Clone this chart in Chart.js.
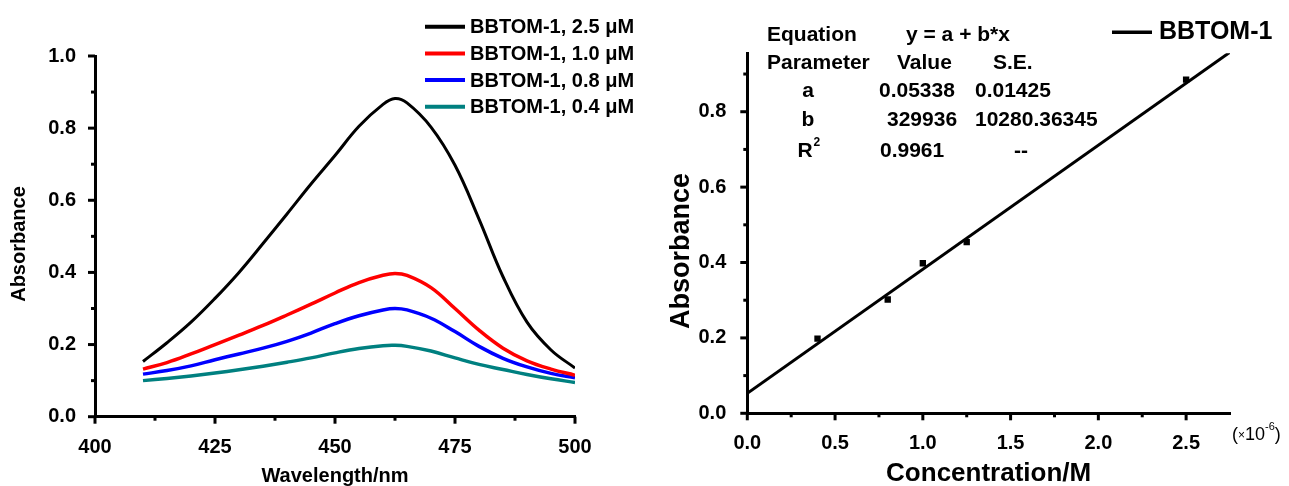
<!DOCTYPE html>
<html>
<head>
<meta charset="utf-8">
<script src="https://cdn.jsdelivr.net/npm/chart.js@4.4.0/dist/chart.umd.min.js"></script>
<style>
  html, body { margin: 0; padding: 0; background: #fff; }
  #wrap { position: relative; width: 1289px; height: 486px; overflow: hidden; }
  canvas { position: absolute; top: 0; }
  #spectra { left: 0; }
  #calib { left: 645px; }
</style>
</head>
<body>
<div id="wrap">
  <canvas id="spectra" width="645" height="486"></canvas>
  <canvas id="calib" width="644" height="486"></canvas>
</div>
<script>
// ---- left panel: absorption spectra ----
const wavelengths = [410, 415, 420, 425, 430, 435, 440, 445, 450, 455, 460, 462.5, 465, 470, 475, 480, 485, 490, 495, 500];
const abs25 = [0.153, 0.205, 0.262, 0.328, 0.400, 0.480, 0.562, 0.645, 0.724, 0.805, 0.866, 0.882, 0.870, 0.803, 0.697, 0.548, 0.388, 0.262, 0.185, 0.135];
const abs10 = [0.132, 0.150, 0.174, 0.200, 0.226, 0.253, 0.282, 0.312, 0.343, 0.372, 0.392, 0.397, 0.392, 0.358, 0.300, 0.240, 0.190, 0.155, 0.132, 0.115];
const abs08 = [0.118, 0.128, 0.141, 0.158, 0.174, 0.190, 0.209, 0.232, 0.258, 0.280, 0.296, 0.300, 0.296, 0.273, 0.236, 0.195, 0.162, 0.138, 0.120, 0.108];
const abs04 = [0.100, 0.106, 0.113, 0.121, 0.130, 0.140, 0.151, 0.163, 0.177, 0.189, 0.197, 0.198, 0.195, 0.182, 0.163, 0.145, 0.131, 0.117, 0.105, 0.095];
const seriesLabels = ['BBTOM-1, 2.5 μM', 'BBTOM-1, 1.0 μM', 'BBTOM-1, 0.8 μM', 'BBTOM-1, 0.4 μM'];
const seriesColors = ['#000000', '#ff0000', '#0000ff', '#008080'];
const wlTicks = [400, 425, 450, 475, 500];
const wlMinor = [412.5, 437.5, 462.5, 487.5];
const absTicks = [0, 0.2, 0.4, 0.6, 0.8, 1.0];
const absMinor = [0.1, 0.3, 0.5, 0.7, 0.9];

// ---- right panel: calibration ----
const concentration = [0.4, 0.8, 1.0, 1.25, 2.5];   // x 10^-6 M
const peakAbs = [0.198, 0.302, 0.398, 0.454, 0.885];
const fitX = [0, 2.75];
const fitY = [0.053, 0.958];
const concTicks = [0, 0.5, 1.0, 1.5, 2.0, 2.5];
const concMinor = [0.25, 0.75, 1.25, 1.75, 2.25];
const calTicks = [0, 0.2, 0.4, 0.6, 0.8];
const calMinor = [0.1, 0.3, 0.5, 0.7, 0.9];
const fitTable = [
  ['Equation', 'y = a + b*x', ''],
  ['Parameter', 'Value', 'S.E.'],
  ['a', '0.05338', '0.01425'],
  ['b', '329936', '10280.36345'],
  ['R²', '0.9961', '--']
];

const FONT = '"Liberation Sans", Arial, Helvetica, sans-serif';

// outward major / minor tick marks, placed with the chart's own scales
const tickMarks = {
  id: 'tickMarks',
  afterDraw(chart, args, opts) {
    const ctx = chart.ctx;
    const xs = chart.scales.x, ys = chart.scales.y;
    const area = chart.chartArea;
    ctx.save();
    ctx.strokeStyle = '#000';
    ctx.lineWidth = 3;
    const xMark = (v, len) => {
      const px = xs.getPixelForValue(v);
      ctx.beginPath(); ctx.moveTo(px, area.bottom); ctx.lineTo(px, area.bottom + len); ctx.stroke();
    };
    const yMark = (v, len) => {
      const py = ys.getPixelForValue(v);
      ctx.beginPath(); ctx.moveTo(area.left, py); ctx.lineTo(area.left - len, py); ctx.stroke();
    };
    opts.xMajor.forEach(v => xMark(v, 7));
    opts.xMinor.forEach(v => xMark(v, 4));
    opts.yMajor.forEach(v => yMark(v, 7));
    opts.yMinor.forEach(v => { if (v <= ys.max) yMark(v, 4); });
    ctx.restore();
  }
};

function fixedTicks(values) {
  return scale => { scale.ticks = values.map(v => ({ value: v })); };
}

function text(ctx, str, x, y, size, align, bold = true) {
  ctx.font = (bold ? 'bold ' : '') + size + 'px ' + FONT;
  ctx.textAlign = align || 'left';
  ctx.textBaseline = 'middle';
  ctx.fillText(str, x, y);
}

// ---------------- left chart ----------------
const spectraDecor = {
  id: 'spectraDecor',
  afterDraw(chart) {
    const ctx = chart.ctx;
    ctx.save();
    ctx.fillStyle = '#000';
    // legend
    chart.data.datasets.forEach((ds, i) => {
      const y = 26.7 + i * 26.7;
      ctx.strokeStyle = ds.borderColor;
      ctx.lineWidth = 4;
      ctx.beginPath(); ctx.moveTo(425, y); ctx.lineTo(465, y); ctx.stroke();
      text(ctx, ds.label, 470, y + 1, 20, 'left');
    });
    // axis titles
    text(ctx, 'Wavelength/nm', (chart.chartArea.left + chart.chartArea.right) / 2, 476, 20, 'center');
    ctx.translate(19, 244);
    ctx.rotate(-Math.PI / 2);
    text(ctx, 'Absorbance', 0, 0, 20, 'center');
    ctx.restore();
  }
};

const spectraSets = [abs25, abs10, abs08, abs04].map((arr, i) => ({
  label: seriesLabels[i],
  data: wavelengths.map((w, j) => ({ x: w, y: arr[j] })),
  borderColor: seriesColors[i],
  borderWidth: i === 0 ? 3 : 3.5,
  pointRadius: 0,
  tension: 0.4,
  fill: false
}));

new Chart(document.getElementById('spectra'), {
  type: 'line',
  data: { datasets: spectraSets },
  options: {
    responsive: false,
    animation: false,
    layout: { padding: { top: 56, right: 70, left: 0, bottom: 0 } },
    plugins: {
      legend: { display: false },
      tooltip: { enabled: false },
      tickMarks: { xMajor: wlTicks, xMinor: wlMinor, yMajor: absTicks, yMinor: absMinor }
    },
    scales: {
      x: {
        type: 'linear', min: 400, max: 500,
        afterBuildTicks: fixedTicks(wlTicks),
        afterFit: s => { s.height = 69.3; },
        grid: { display: false },
        border: { display: true, color: '#000', width: 3 },
        ticks: { autoSkip: false, maxRotation: 0, padding: 11, color: '#000',
                 font: { family: FONT, size: 20, weight: 'bold' } }
      },
      y: {
        min: 0, max: 1.0,
        afterBuildTicks: fixedTicks(absTicks),
        afterFit: s => { s.width = 95; },
        grid: { display: false },
        border: { display: true, color: '#000', width: 3 },
        ticks: { autoSkip: false, padding: 11, color: '#000',
                 font: { family: FONT, size: 20, weight: 'bold' },
                 callback: v => v.toFixed(1) }
      }
    }
  },
  plugins: [tickMarks, spectraDecor]
});

// ---------------- right chart ----------------
const calibDecor = {
  id: 'calibDecor',
  afterDraw(chart) {
    const ctx = chart.ctx;
    ctx.save();
    ctx.fillStyle = '#000';
    ctx.strokeStyle = '#000';
    // legend
    ctx.lineWidth = 3.5;
    ctx.beginPath(); ctx.moveTo(467, 32.3); ctx.lineTo(507, 32.3); ctx.stroke();
    text(ctx, chart.data.datasets[1].label, 514, 32, 25, 'left');
    // fit result table
    const rowY = [35, 63.3, 91.7, 120, 151.7];
    const colX = [
      [[122, 'left'], [261, 'left'], null],
      [[122, 'left'], [252, 'left'], [348, 'left']],
      [[163, 'center'], [234, 'left'], [330, 'left']],
      [[163, 'center'], [242, 'left'], [330, 'left']],
      [[163, 'center'], [235, 'left'], [376, 'center']]
    ];
    fitTable.forEach((row, r) => {
      row.forEach((cell, c) => {
        const pos = colX[r][c];
        if (!pos || !cell) return;
        if (cell.endsWith('²')) {
          const base = cell.slice(0, -1);
          ctx.font = 'bold 21px ' + FONT;
          const w = ctx.measureText(base).width;
          text(ctx, base, pos[0] - 3 - w / 2, rowY[r], 21, 'left');
          text(ctx, '2', pos[0] - 3 + w / 2 + 1, rowY[r] - 9, 12, 'left');
        } else {
          text(ctx, cell, pos[0], rowY[r], 21, pos[1]);
        }
      });
    });
    // axis multiplier (x10^-6)
    let x = 587;
    const yb = 435;
    const seg = (s, size, dy) => {
      text(ctx, s, x, yb + dy, size, 'left', false);
      x += ctx.measureText(s).width;
    };
    seg('(', 18, 0);
    seg('×', 12, 1);
    seg('10', 18, 0);
    seg('-6', 11, -8);
    seg(')', 18, 0);
    // axis titles
    text(ctx, 'Concentration/M', (chart.chartArea.left + chart.chartArea.right) / 2, 474, 26, 'center');
    ctx.translate(37, 251);
    ctx.rotate(-Math.PI / 2);
    text(ctx, 'Absorbance', 0, 0, 27, 'center');
    ctx.restore();
  }
};

new Chart(document.getElementById('calib'), {
  type: 'scatter',
  data: {
    datasets: [
      {
        label: 'BBTOM-1 data',
        data: concentration.map((c, i) => ({ x: c, y: peakAbs[i] })),
        pointStyle: 'rect',
        pointRadius: 4.5,
        backgroundColor: '#000',
        borderColor: '#000',
        borderWidth: 0
      },
      {
        label: 'BBTOM-1',
        data: fitX.map((c, i) => ({ x: c, y: fitY[i] })),
        showLine: true,
        borderColor: '#000',
        borderWidth: 3,
        pointRadius: 0
      }
    ]
  },
  options: {
    responsive: false,
    animation: false,
    layout: { padding: { top: 53.3, right: 59, left: 0, bottom: 0 } },
    plugins: {
      legend: { display: false },
      tooltip: { enabled: false },
      tickMarks: { xMajor: concTicks, xMinor: concMinor, yMajor: calTicks, yMinor: calMinor }
    },
    scales: {
      x: {
        type: 'linear', min: 0, max: 2.75,
        afterBuildTicks: fixedTicks(concTicks),
        afterFit: s => { s.height = 72.7; },
        grid: { display: false },
        border: { display: true, color: '#000', width: 3 },
        ticks: { autoSkip: false, maxRotation: 0, padding: 10, color: '#000',
                 font: { family: FONT, size: 20, weight: 'bold' },
                 callback: v => v.toFixed(1) }
      },
      y: {
        min: 0, max: 0.955,
        afterBuildTicks: fixedTicks(calTicks),
        afterFit: s => { s.width = 102.3; },
        grid: { display: false },
        border: { display: true, color: '#000', width: 3 },
        ticks: { autoSkip: false, padding: 13, color: '#000',
                 font: { family: FONT, size: 20, weight: 'bold' },
                 callback: v => v.toFixed(1) }
      }
    }
  },
  plugins: [tickMarks, calibDecor]
});
</script>
</body>
</html>
